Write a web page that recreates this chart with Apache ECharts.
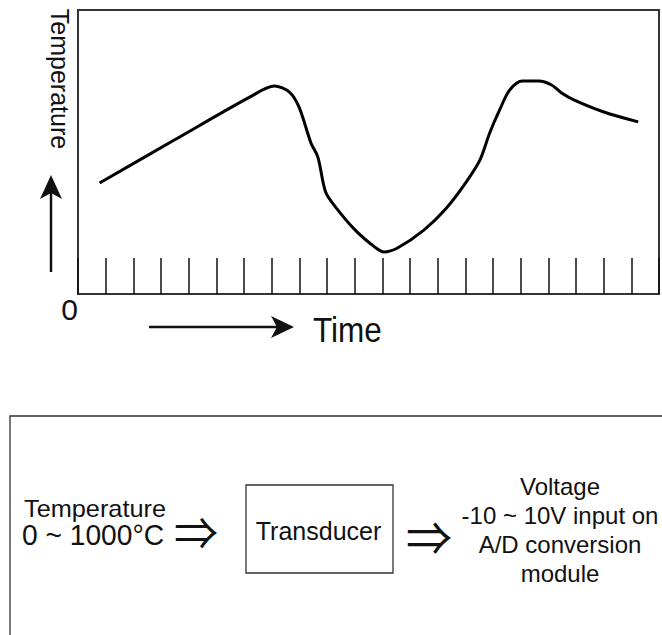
<!DOCTYPE html>
<html>
<head>
<meta charset="utf-8">
<script src="https://cdn.jsdelivr.net/npm/echarts@6/dist/echarts.min.js"></script>
<style>
  html, body { margin: 0; padding: 0; background: #fff; }
  #chart { width: 662px; height: 635px; }
</style>
</head>
<body>
<div id="chart"></div>
<script>
// temperature curve: [time, temperature]
var curveTime = [0.78, 3.48, 6.22, 7.10, 7.64, 7.99, 8.42, 8.67, 8.95, 9.31, 10.02, 10.73, 11.05,
    11.55, 12.50, 13.32, 14.03, 14.53, 14.88, 15.24, 15.60, 16.06, 16.66, 17.12, 17.48, 17.94, 19.01, 20.25]
var curveTemp = [391, 542, 694, 732, 711, 658, 532, 482, 359, 306, 225, 165, 148,
    162, 225, 303, 394, 472, 567, 648, 718, 750, 750, 736, 708, 683, 641, 606]

// axes
var timeMin = 0
var timeMax = 21
var timeStep = 1
var tempMin = 0
var tempMax = 1000
var originLabel = '0'
var yTitle = 'Temperature'
var xTitle = 'Time'

// block diagram texts
var inputLines = ['Temperature', '0 ~ 1000°C']
var boxLabel = 'Transducer'
var outputLines = ['Voltage', '-10 ~ 10V input on', 'A/D conversion', 'module']

var font = '"Liberation Sans", Arial, sans-serif'
var ink = '#111'

function txt(x, y, text, size, opts) {
    opts = opts || {}
    return {
        type: 'text',
        x: x,
        y: y,
        rotation: opts.rotation || 0,
        scaleX: opts.scaleX || 1,
        style: {
            text: text,
            fontSize: size,
            fontFamily: opts.family || font,
            fill: ink,
            align: opts.align || 'center',
            textAlign: opts.align || 'center',
            verticalAlign: 'middle',
            textVerticalAlign: 'middle',
            lineHeight: opts.lineHeight
        }
    }
}

var chart = echarts.init(document.getElementById('chart'), null, { renderer: 'svg' })

chart.setOption({
    animation: false,
    backgroundColor: '#fff',
    grid: {
        left: 78,
        top: 10,
        bottom: 341,
        right: -7,
        show: true,
        borderColor: '#333',
        borderWidth: 2,
        backgroundColor: 'transparent'
    },
    xAxis: {
        type: 'value',
        min: timeMin,
        max: timeMax,
        interval: timeStep,
        axisLine: { show: true, lineStyle: { color: '#333', width: 2 } },
        axisTick: { show: true, inside: true, length: 36, lineStyle: { color: ink, width: 1.5 } },
        splitLine: { show: false },
        axisLabel: {
            show: true,
            margin: 0,
            align: 'right',
            fontSize: 30,
            fontFamily: font,
            color: ink,
            formatter: function(v) { return v === timeMin ? originLabel : '' }
        }
    },
    yAxis: {
        type: 'value',
        min: tempMin,
        max: tempMax,
        axisLine: { show: false },
        axisTick: { show: false },
        axisLabel: { show: false },
        splitLine: { show: false }
    },
    series: [{
        type: 'line',
        data: curveTime.map(function(t, i) { return [t, curveTemp[i]] }),
        smooth: 0.3,
        showSymbol: false,
        lineStyle: { color: '#000', width: 3 }
    }],
    graphic: [
        // y title and arrow
        txt(59.5, 79, yTitle, 25, { rotation: -Math.PI / 2 }),
        { type: 'line', shape: { x1: 51, y1: 272, x2: 51, y2: 190 }, style: { stroke: ink, lineWidth: 2.5 } },
        { type: 'polygon', shape: { points: [[51, 175], [40, 199], [51, 193], [62, 199]] }, style: { fill: ink } },
        // x title and arrow
        { type: 'line', shape: { x1: 149, y1: 327, x2: 283, y2: 327 }, style: { stroke: ink, lineWidth: 2.5 } },
        { type: 'polygon', shape: { points: [[294, 327], [271, 316], [277, 327], [271, 338]] }, style: { fill: ink } },
        txt(313, 330, xTitle, 35, { align: 'left', scaleX: 0.9 }),

        // block diagram
        { type: 'rect', shape: { x: 10, y: 416, width: 700, height: 300 }, style: { fill: 'none', stroke: '#333', lineWidth: 1.3 } },
        txt(95, 509, inputLines[0], 23, { scaleX: 1.1 }),
        txt(93, 534.5, inputLines[1], 30, { scaleX: 0.94 }),
        txt(196, 531, '⇒', 44, { family: '"Noto Sans CJK JP", "DejaVu Sans"' }),
        { type: 'rect', shape: { x: 246, y: 485, width: 147, height: 88 }, style: { fill: 'none', stroke: '#333', lineWidth: 1.3 } },
        txt(318.5, 531, boxLabel, 25),
        txt(429, 535, '⇒', 46, { family: '"Noto Sans CJK JP", "DejaVu Sans"' }),
        txt(560, 530, outputLines.join('\n'), 24, { lineHeight: 29.3 })
    ]
})
</script>
</body>
</html>
